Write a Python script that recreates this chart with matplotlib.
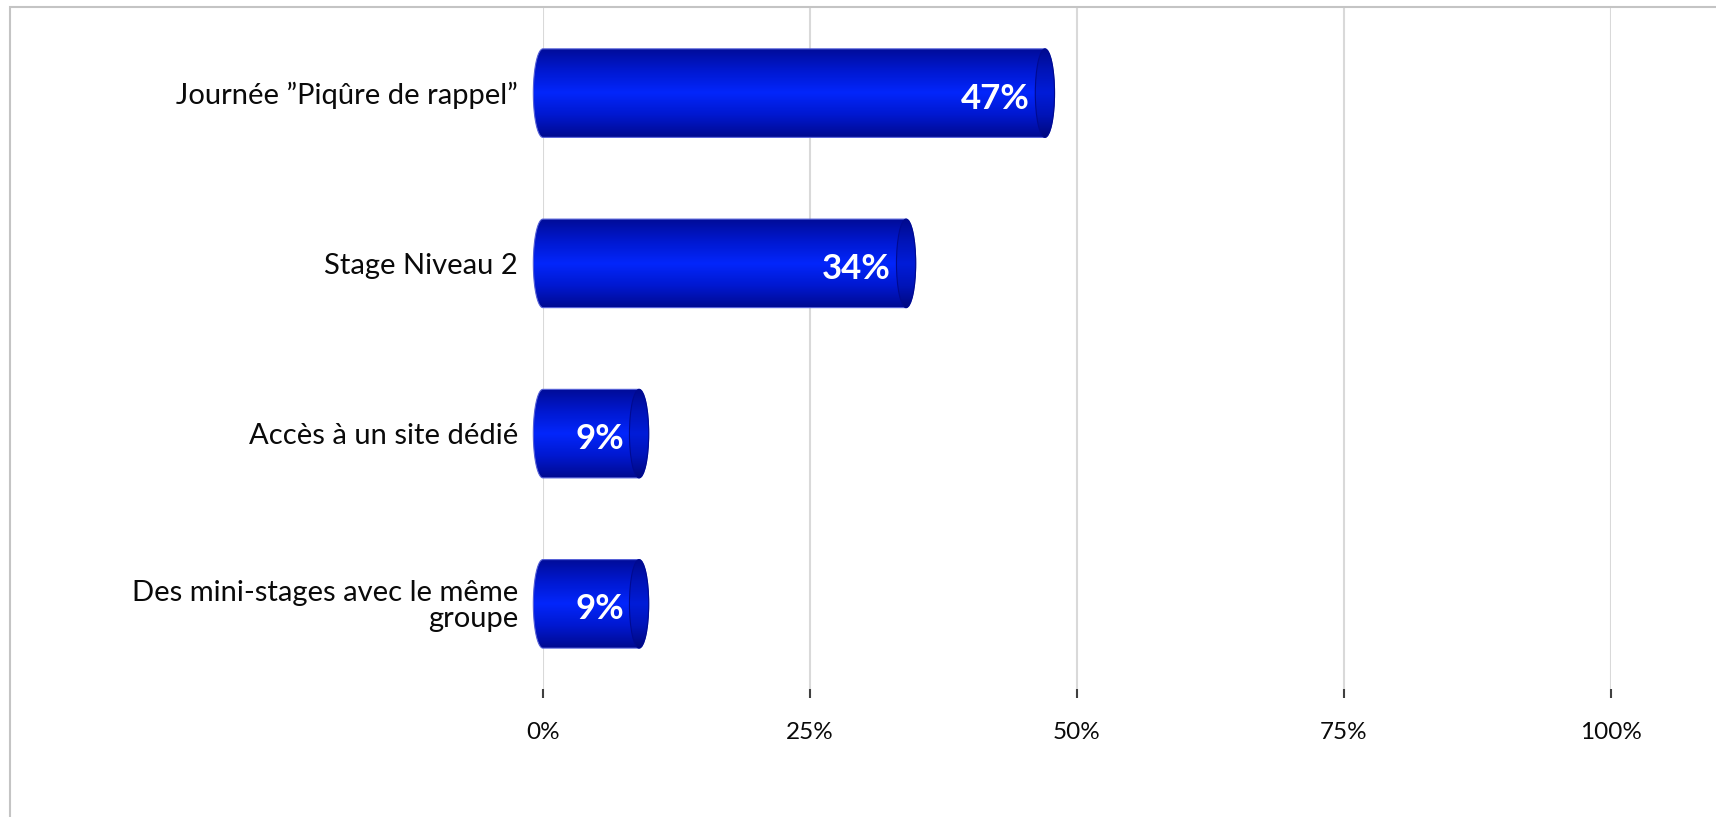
import numpy as np
import matplotlib
matplotlib.use("Agg")
import matplotlib.pyplot as plt
from matplotlib.path import Path
from matplotlib.patches import PathPatch, Ellipse, Rectangle
from matplotlib.colors import LinearSegmentedColormap

# --- data ---
categories = ["Journée ”Piqûre de rappel”", "Stage Niveau 2",
              "Accès à un site dédié", "Des mini-stages avec le même\ngroupe"]
values = [47, 34, 9, 9]
x_ticks = [0, 25, 50, 75, 100]
x_tick_labels = ["0%", "25%", "50%", "75%", "100%"]

plt.rcParams["font.family"] = ["Lato", "DejaVu Sans"]

# cylinder shading: dark rims, bright middle
body_cmap = LinearSegmentedColormap.from_list(
    "body", ["#000c98", "#0018d0", "#0326fb", "#0018d0", "#000a90"])
face_cmap = LinearSegmentedColormap.from_list(
    "face", ["#000a8c", "#0014b8", "#001cd8", "#0014b8", "#00087e"])
shade = np.linspace(0, 1, 256).reshape(-1, 1)

fig = plt.figure(figsize=(17.16, 8.17), dpi=100)
ax = fig.add_axes([0.3164, 0.1567, 0.6224, 0.8335])

ypos = np.arange(len(categories))
bars = ax.barh(ypos, values, height=0.52, color="none", edgecolor="none")

cap = 0.9  # half width of the end ellipses, in data units
t = np.linspace(-np.pi / 2, np.pi / 2, 60)
for bar, v in zip(bars, values):
    x0, y0 = bar.get_x(), bar.get_y()
    w, h = bar.get_width(), bar.get_height()
    yc = y0 + h / 2
    # outline: left half-ellipse at 0, straight sides, right half-ellipse at the end
    right = np.column_stack([x0 + w + cap * np.cos(t), yc + h / 2 * np.sin(t)])
    left = np.column_stack([x0 - cap * np.cos(t[::-1]), yc + h / 2 * np.sin(t[::-1])])
    pts = np.vstack([right, left, right[:1]])
    body = PathPatch(Path(pts, closed=True), fc="none", ec="#5560d8", lw=0.8,
                     transform=ax.transData, zorder=3, clip_on=False)
    ax.add_patch(body)
    im = ax.imshow(shade, cmap=body_cmap, aspect="auto", zorder=2,
                   extent=[x0 - cap, x0 + w + cap, y0 + h, y0])
    im.set_clip_path(body)
    im.set_clip_box(fig.bbox)  # let the left cap spill past x=0

    face = Ellipse((x0 + w, yc), 2 * cap, h, fc="none", ec="#000a90", lw=0.8,
                   zorder=5, clip_on=False)
    ax.add_patch(face)
    im2 = ax.imshow(shade, cmap=face_cmap, aspect="auto", zorder=4,
                    extent=[x0 + w - cap, x0 + w + cap, y0 + h, y0])
    im2.set_clip_path(face)
    im2.set_clip_box(fig.bbox)

    ax.annotate(f"{v}%", (x0 + w, yc), xytext=(-11, -4), textcoords="offset points",
                ha="right", va="center", color="white", fontsize=25,
                fontweight="bold", zorder=6)

ax.set_xlim(0, 100)
ax.set_ylim(len(categories) - 0.5, -0.5)
ax.set_xticks(x_ticks, x_tick_labels)
ax.set_yticks(ypos, categories)
ax.grid(axis="x", color="#d9d9d9", lw=1.5, zorder=0)
ax.set_axisbelow(True)
for s in ax.spines.values():
    s.set_visible(False)
ax.tick_params(axis="y", length=0, pad=18, labelsize=21, labelcolor="#0a0a0a")
ax.tick_params(axis="x", length=6.5, width=1.5, color="#404040", pad=17,
               labelsize=17.5, labelcolor="#0a0a0a")
for lbl in ax.get_yticklabels():
    lbl.set_linespacing(1.0)

# outer frame of the chart area
fig.patches.append(Rectangle((10 / 1716, -0.1), 1.2, 1.1 - 7 / 817, transform=fig.transFigure,
                             fill=False, ec="#c4c4c4", lw=1.5))

fig.savefig("out.png", dpi=100, facecolor="white")
